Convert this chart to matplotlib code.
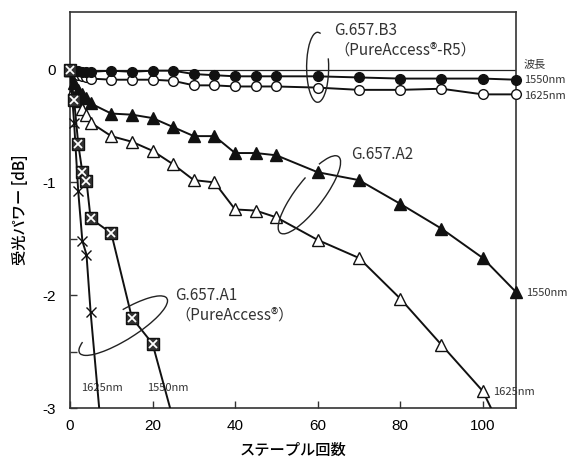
import numpy as np
import matplotlib
matplotlib.use("Agg")
import matplotlib.pyplot as plt
from matplotlib.patches import Arc
from matplotlib.transforms import ScaledTranslation

plt.rcParams['font.family'] = ['Liberation Sans', 'Noto Sans CJK JP', 'DejaVu Sans']
plt.rcParams['axes.unicode_minus'] = False

# data
x_b3 = [0, 1, 2, 3, 4, 5, 10, 15, 20, 25, 30, 35, 40, 45, 50, 60, 70, 80, 90, 100, 108]
b3_1550 = [0, -0.01, -0.01, -0.02, -0.02, -0.02, -0.01, -0.02, -0.01, -0.01, -0.04, -0.05,
           -0.06, -0.06, -0.06, -0.06, -0.07, -0.08, -0.08, -0.08, -0.09]
b3_1625 = [0, -0.03, -0.05, -0.06, -0.07, -0.08, -0.09, -0.09, -0.09, -0.10, -0.14, -0.14,
           -0.15, -0.15, -0.15, -0.16, -0.18, -0.18, -0.17, -0.22, -0.22]

x_a2_1550 = [0, 1, 2, 3, 4, 5, 10, 15, 20, 25, 30, 35, 40, 45, 50, 60, 70, 80, 90, 100, 108]
a2_1550 = [0, -0.12, -0.18, -0.22, -0.25, -0.30, -0.39, -0.40, -0.43, -0.51, -0.59, -0.59,
           -0.74, -0.74, -0.76, -0.91, -0.98, -1.19, -1.41, -1.67, -1.97]
x_a2_1625 = [0, 1, 2, 3, 4, 5, 10, 15, 20, 25, 30, 35, 40, 45, 50, 60, 70, 80, 90, 100, 110]
a2_1625 = [0, -0.17, -0.28, -0.35, -0.40, -0.47, -0.59, -0.64, -0.72, -0.84, -0.98, -1.00,
           -1.24, -1.25, -1.31, -1.51, -1.67, -2.03, -2.44, -2.85, -3.6]

x_a1_1550 = [0, 1, 2, 3, 4, 5, 10, 15, 20, 25]
a1_1550 = [0, -0.27, -0.66, -0.91, -0.99, -1.32, -1.45, -2.20, -2.43, -3.1]
x_a1_1625 = [0, 1, 2, 3, 4, 5, 10]
a1_1625 = [0, -0.47, -1.08, -1.52, -1.64, -2.15, -4.2]

fig = plt.figure(figsize=(5.75, 4.73), dpi=100)
ax = fig.add_axes([0.1217, 0.1374, 0.7753, 0.8372])
ax.set_xlim(0, 108)
ax.set_ylim(-3, 0.51)
ax.axhline(0, color='#222', lw=0.9, zorder=1)

def series(x, y, marker, fc, ms, z):
    x = np.array(x, float)
    y = np.array(y, float)
    ax.plot(x, y, '-', color='#111', lw=1.4, zorder=z)
    keep = y >= -3
    ax.plot(x[keep], y[keep], ls='none', marker=marker, ms=ms, mfc=fc, mec='#111',
            mew=1.0, clip_on=False, zorder=z + 0.5)

series(x_b3, b3_1625, 'o', 'white', 7, 3)
series(x_b3, b3_1550, 'o', '#111', 7, 4)
series(x_a2_1625, a2_1625, '^', 'white', 8, 3)
series(x_a2_1550, a2_1550, '^', '#111', 8, 4)
series(x_a1_1625, a1_1625, 'x', 'none', 6.5, 5)
series(x_a1_1550, a1_1550, 's', '#333', 8, 6)
# white cross inside the squares
xa = np.array(x_a1_1550, float)
ya = np.array(a1_1550, float)
k = ya >= -3
ax.plot(xa[k], ya[k], ls='none', marker='x', ms=5.5, mec='white', mew=1.3,
        clip_on=False, zorder=7)

def ring(cx, cy, w, h, ang, t1, t2):
    tr = fig.dpi_scale_trans + ScaledTranslation(cx, cy, ax.transData)
    ax.add_patch(Arc((0, 0), w, h, angle=ang, theta1=t1, theta2=t2, transform=tr,
                     color='#222', lw=1.0, clip_on=False, zorder=8))

ring(60, 0.02, 0.22, 0.70, 0, 85, 400)
ring(58, -1.11, 0.96, 0.28, 52.6, 50, 380)
ring(12.9, -2.27, 1.03, 0.28, 32, 170, 420)

lab = dict(color='#333', fontsize=11, family=['Noto Sans CJK JP', 'DejaVu Sans'],
           va='top', ha='left', linespacing=1.15)
ax.text(64, 0.42, 'G.657.B3\n（PureAccess®-R5）', **lab)
ax.text(68, -0.68, 'G.657.A2', **lab)
ax.text(25.5, -1.93, 'G.657.A1\n（PureAccess®）', **lab)

small = dict(color='#333', fontsize=8, family=['Noto Sans CJK JP', 'DejaVu Sans'],
             va='center', ha='left')
ax.text(2.6, -2.82, '1625nm', **small)
ax.text(18.7, -2.82, '1550nm', **small)
ax.text(110, 0.05, '波長', **small)
ax.text(110, -0.09, '1550nm', **small)
ax.text(110, -0.23, '1625nm', **small)
ax.text(110.5, -1.98, '1550nm', **small)
ax.text(102.5, -2.86, '1625nm', **small)

ax.set_xticks([0, 20, 40, 60, 80, 100])
ax.set_yticks([0, -1, -2, -3])
ax.set_yticks([-0.5, -1.5, -2.5], minor=True)
ax.tick_params(direction='in', length=5, width=1, labelsize=11, color='#333')
ax.tick_params(which='minor', direction='in', length=5, width=1, color='#333')
ax.tick_params(axis='x', pad=8)
ax.tick_params(axis='y', pad=10)
for s in ax.spines.values():
    s.set_color('#333')
    s.set_linewidth(1.2)

jp = ['Noto Sans CJK JP', 'DejaVu Sans']
ax.set_xlabel('ステープル回数', family=jp, fontsize=11, fontweight='medium', labelpad=6)
ax.set_ylabel('受光パワー [dB]', family=jp, fontsize=11, fontweight='medium', labelpad=10)

fig.savefig('out.png', dpi=100)
